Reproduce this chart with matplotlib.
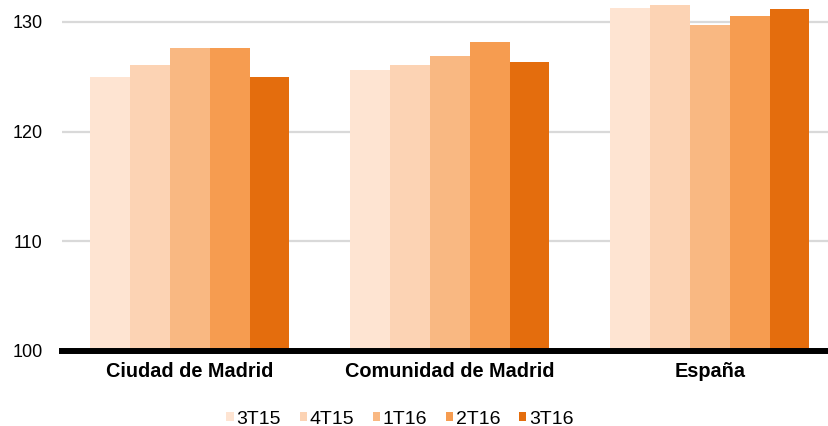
import numpy as np
import matplotlib.pyplot as plt

plt.rcParams['font.family'] = ['Liberation Sans', 'DejaVu Sans']

categories = ['Ciudad de Madrid', 'Comunidad de Madrid', 'España']
periods = ['3T15', '4T15', '1T16', '2T16', '3T16']
values = {
    '3T15': [125.0, 125.6, 131.3],
    '4T15': [126.1, 126.1, 131.5],
    '1T16': [127.6, 126.9, 129.7],
    '2T16': [127.6, 128.2, 130.5],
    '3T16': [125.0, 126.3, 131.2],
}
colors = ['#FEE4D2', '#FCD3B4', '#F9B882', '#F69C50', '#E46D0D']

fig = plt.figure(figsize=(8.29, 4.26), dpi=100)
ax = fig.add_axes([62 / 829, 75 / 426, 767 / 829, 350 / 426])

x = np.arange(len(categories))
width = 0.153
for i, (p, c) in enumerate(zip(periods, colors)):
    offs = (i - 2) * width
    ax.bar(x + offs, values[p], width, bottom=0, color=c, label=p, zorder=2)

ax.set_ylim(100, 131.9)
ax.set_xlim(-0.492, 2.458)
ax.set_yticks([100, 110, 120, 130])
ax.yaxis.grid(True, color='#D9D9D9', linewidth=1.6, zorder=0)
ax.set_axisbelow(True)
for s in ['top', 'right', 'left']:
    ax.spines[s].set_visible(False)
ax.spines['bottom'].set_linewidth(4.3)
ax.spines['bottom'].set_color('black')
ax.spines['bottom'].set_zorder(5)
ax.tick_params(axis='y', length=0, pad=14, labelsize=13)
ax.tick_params(axis='x', length=0, pad=8)
ax.set_xticks(x)
ax.set_xticklabels(categories, fontsize=14.3, fontweight='bold')

fig.legend(loc='center', bbox_to_anchor=(400 / 829, 7 / 426), ncol=5, frameon=False,
           fontsize=14, handlelength=0.37, handleheight=0.37, handletextpad=0.15,
           columnspacing=0.95, borderpad=0.1)

fig.savefig('out.png', dpi=100)
